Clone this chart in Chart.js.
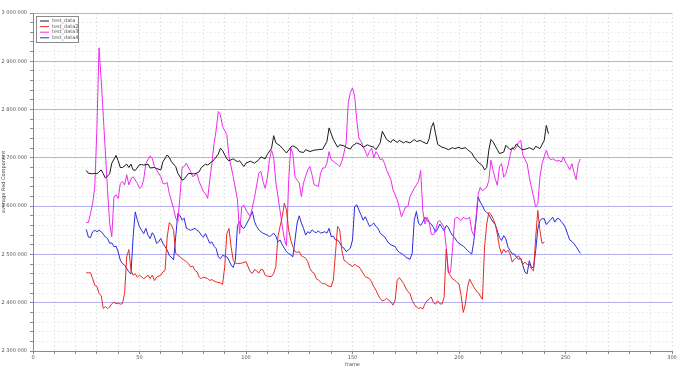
<!DOCTYPE html>
<html>
<head>
<meta charset="utf-8">
<script src="https://cdn.jsdelivr.net/npm/chart.js@4.4.0/dist/chart.umd.min.js"></script>
<style>
  html, body { margin: 0; padding: 0; background: #fff; }
  #wrap { position: relative; width: 680px; height: 369px; }
</style>
</head>
<body>
<div id="wrap"><canvas id="c" width="680" height="369"></canvas></div>
<script>
// values (frame -> average red component)
var seriesNames = ['test_data', 'test_data2', 'test_data3', 'test_data4'];
var seriesColors = ['#1a1a1a', '#e82a24', '#ee2aee', '#2a2ae0'];

var framesBlack = [25,26,28,29,30,32,33,34,36,37,39,40,41,42,44,45,46,47,48,50,51,52,54,55,57,58,60,61,63,64,65,67,68,70,71,73,75,76,78,79,81,82,84,85,87,88,89,91,92,94,96,97,99,100,102,104,106,107,109,110,112,113,114,116,117,119,121,122,124,125,127,128,130,132,134,136,138,139,141,143,144,146,147,149,150,152,154,155,157,158,160,161,163,164,166,168,169,171,172,174,175,177,179,180,182,183,185,186,187,188,189,190,192,193,195,197,198,200,201,203,204,206,207,209,211,212,213,214,215,216,218,219,221,222,224,226,227,229,230,232,233,235,236,238,240,241,242];
var valuesBlack = [2674000,2668000,2667000,2668000,2667000,2675000,2667000,2658000,2667000,2689000,2705000,2694000,2680000,2680000,2687000,2680000,2687000,2675000,2674000,2686000,2686000,2685000,2687000,2679000,2680000,2678000,2675000,2692000,2706000,2701000,2692000,2682000,2668000,2654000,2656000,2668000,2667000,2667000,2671000,2680000,2687000,2685000,2692000,2696000,2708000,2720000,2715000,2698000,2694000,2698000,2692000,2694000,2682000,2689000,2693000,2689000,2696000,2702000,2698000,2707000,2720000,2746000,2731000,2725000,2720000,2710000,2722000,2725000,2720000,2713000,2711000,2717000,2713000,2716000,2717000,2718000,2734000,2762000,2738000,2722000,2727000,2725000,2722000,2718000,2725000,2731000,2727000,2722000,2727000,2725000,2722000,2717000,2731000,2755000,2738000,2732000,2738000,2732000,2736000,2731000,2734000,2731000,2738000,2734000,2736000,2733000,2729000,2740000,2763000,2773000,2750000,2728000,2722000,2721000,2717000,2721000,2719000,2722000,2719000,2721000,2717000,2710000,2702000,2691000,2684000,2675000,2680000,2716000,2738000,2733000,2717000,2709000,2712000,2726000,2717000,2721000,2729000,2719000,2717000,2719000,2721000,2717000,2724000,2719000,2736000,2767000,2750000];

var framesRed = [25,26,27,28,29,30,31,32,33,34,35,36,37,38,39,40,41,42,43,44,45,46,47,48,49,50,52,53,54,55,56,57,58,60,61,62,63,64,65,66,67,69,70,71,72,73,74,75,76,77,78,79,80,82,83,84,85,86,88,89,90,91,92,93,94,95,96,98,100,102,103,104,105,106,107,108,109,110,112,113,114,115,116,117,118,119,120,121,122,123,124,125,126,127,128,129,130,131,132,133,134,135,136,137,138,139,140,141,142,143,144,145,146,147,148,150,151,152,153,154,155,156,158,159,160,161,162,163,164,165,166,167,168,169,170,171,172,174,175,176,177,178,179,180,181,182,183,184,185,186,187,188,189,190,191,192,193,194,195,196,197,198,199,200,201,202,203,204,205,206,207,208,209,210,211,212,213,214,215,216,217,218,219,220,221,222,223,224,225,226,227,228,229,230,231,232,233,234,235,236,237,238,239,240];
var valuesRed = [2462000,2462000,2462000,2450000,2436000,2434000,2419000,2415000,2388000,2392000,2388000,2391000,2398000,2401000,2398000,2399000,2397000,2398000,2419000,2495000,2510000,2467000,2457000,2460000,2453000,2457000,2450000,2453000,2457000,2450000,2457000,2446000,2453000,2457000,2464000,2467000,2536000,2566000,2561000,2550000,2502000,2495000,2491000,2488000,2485000,2481000,2474000,2476000,2467000,2464000,2453000,2450000,2453000,2450000,2446000,2448000,2445000,2443000,2441000,2438000,2474000,2543000,2554000,2516000,2488000,2482000,2481000,2482000,2485000,2464000,2461000,2469000,2466000,2461000,2469000,2468000,2457000,2455000,2454000,2461000,2475000,2537000,2558000,2578000,2606000,2592000,2551000,2530000,2516000,2506000,2504000,2506000,2497000,2495000,2492000,2485000,2471000,2464000,2461000,2450000,2447000,2443000,2439000,2440000,2436000,2434000,2433000,2447000,2502000,2558000,2551000,2509000,2488000,2485000,2481000,2475000,2480000,2476000,2475000,2468000,2461000,2454000,2450000,2443000,2433000,2426000,2416000,2409000,2404000,2405000,2409000,2405000,2402000,2395000,2405000,2447000,2452000,2440000,2430000,2423000,2419000,2405000,2397000,2391000,2388000,2390000,2387000,2397000,2404000,2407000,2412000,2400000,2397000,2404000,2398000,2397000,2411000,2511000,2463000,2456000,2449000,2447000,2442000,2439000,2415000,2380000,2397000,2432000,2449000,2440000,2432000,2425000,2421000,2414000,2407000,2515000,2563000,2587000,2583000,2574000,2563000,2542000,2515000,2501000,2511000,2504000,2509000,2501000,2484000,2490000,2494000,2497000,2490000,2480000,2484000,2479000,2480000,2470000,2466000,2535000,2591000,2549000,2523000,2525000];

var framesMagenta = [25,26,27,28,29,30,31,32,33,34,35,36,37,38,39,40,41,42,43,44,45,46,47,49,50,51,52,53,55,56,57,58,60,61,62,63,64,66,67,68,69,70,71,72,74,75,77,78,80,81,82,83,84,85,86,87,88,89,91,92,94,96,97,98,99,100,102,104,106,107,108,109,110,111,112,113,114,116,117,118,119,120,121,122,123,124,125,126,127,128,129,130,131,132,134,135,136,137,138,139,140,141,143,144,145,146,147,148,149,150,151,152,153,154,155,157,158,159,160,161,162,163,164,165,166,168,169,171,172,173,174,175,176,177,179,180,181,182,183,184,185,186,187,188,189,190,191,192,193,194,195,196,197,198,199,200,201,202,203,204,205,206,207,208,209,210,211,213,214,215,216,217,218,219,220,221,222,223,224,225,226,227,228,229,230,232,233,234,235,236,237,238,239,240,241,242,243,244,246,247,248,249,250,251,252,253,254,255,256,257];
var valuesMagenta = [2566000,2566000,2585000,2606000,2640000,2760000,2928000,2862000,2786000,2710000,2633000,2564000,2537000,2620000,2623000,2616000,2647000,2651000,2644000,2665000,2644000,2656000,2661000,2647000,2637000,2640000,2656000,2689000,2704000,2699000,2682000,2675000,2661000,2647000,2646000,2649000,2626000,2595000,2575000,2568000,2620000,2680000,2682000,2689000,2671000,2661000,2667000,2651000,2630000,2626000,2616000,2654000,2689000,2730000,2758000,2796000,2789000,2765000,2748000,2703000,2661000,2613000,2543000,2599000,2602000,2592000,2578000,2618000,2668000,2672000,2651000,2637000,2658000,2696000,2716000,2700000,2650000,2590000,2560000,2532000,2518000,2650000,2722000,2708000,2660000,2654000,2648000,2620000,2648000,2662000,2675000,2682000,2665000,2644000,2641000,2668000,2679000,2679000,2689000,2713000,2696000,2693000,2686000,2682000,2693000,2710000,2731000,2814000,2835000,2845000,2828000,2779000,2741000,2734000,2724000,2703000,2713000,2720000,2700000,2713000,2707000,2696000,2698000,2689000,2675000,2655000,2634000,2613000,2596000,2578000,2589000,2599000,2599000,2620000,2637000,2644000,2651000,2674000,2591000,2563000,2577000,2567000,2542000,2541000,2549000,2567000,2570000,2563000,2556000,2515000,2463000,2463000,2515000,2574000,2577000,2574000,2570000,2577000,2574000,2574000,2577000,2549000,2539000,2577000,2625000,2639000,2632000,2639000,2653000,2695000,2674000,2657000,2643000,2682000,2688000,2660000,2667000,2684000,2705000,2722000,2716000,2722000,2733000,2736000,2705000,2688000,2660000,2639000,2619000,2598000,2605000,2660000,2688000,2702000,2716000,2702000,2696000,2698000,2693000,2695000,2691000,2702000,2691000,2684000,2675000,2688000,2670000,2655000,2688000,2698000];

var framesBlue = [25,26,27,28,29,30,31,32,33,34,35,36,37,38,39,40,41,42,43,44,45,46,47,48,49,50,51,52,53,54,55,56,57,58,59,60,61,62,63,64,66,67,68,69,70,71,72,73,74,76,77,78,79,80,81,82,83,84,85,86,87,88,89,91,92,93,94,95,96,97,98,99,100,102,103,104,105,106,107,108,110,111,112,113,114,115,116,117,118,119,120,121,122,123,124,125,126,127,128,129,130,131,132,133,134,135,137,138,139,140,141,142,143,144,145,146,147,148,149,150,151,152,153,154,155,156,157,158,159,160,161,162,163,164,165,166,167,168,170,171,172,173,174,175,177,178,179,180,181,182,183,184,185,186,187,188,189,190,191,192,193,194,195,196,197,198,199,200,201,202,203,204,205,206,207,208,209,210,211,212,213,214,215,216,217,218,219,220,221,222,223,224,225,226,227,228,229,230,231,232,233,234,235,236,237,238,239,240,241,242,243,244,245,246,247,248,249,250,251,252,253,254,255,256,257];
var valuesBlue = [2552000,2536000,2535000,2547000,2550000,2547000,2550000,2547000,2542000,2536000,2533000,2523000,2524000,2516000,2517000,2505000,2488000,2481000,2478000,2471000,2464000,2460000,2536000,2588000,2571000,2557000,2550000,2543000,2554000,2540000,2533000,2545000,2538000,2523000,2526000,2533000,2523000,2516000,2509000,2498000,2489000,2536000,2585000,2581000,2571000,2575000,2554000,2552000,2550000,2554000,2550000,2547000,2540000,2536000,2543000,2533000,2523000,2526000,2517000,2512000,2495000,2491000,2498000,2495000,2488000,2478000,2473000,2488000,2560000,2568000,2557000,2554000,2561000,2578000,2589000,2568000,2558000,2551000,2547000,2544000,2540000,2537000,2540000,2544000,2538000,2526000,2530000,2520000,2513000,2506000,2502000,2499000,2495000,2530000,2565000,2580000,2565000,2554000,2540000,2547000,2544000,2551000,2547000,2545000,2549000,2544000,2547000,2544000,2554000,2537000,2538000,2530000,2530000,2524000,2516000,2513000,2506000,2509000,2513000,2530000,2599000,2603000,2592000,2582000,2571000,2578000,2568000,2558000,2561000,2565000,2558000,2554000,2544000,2540000,2537000,2530000,2523000,2520000,2516000,2509000,2504000,2502000,2499000,2494000,2490000,2502000,2571000,2589000,2565000,2560000,2567000,2577000,2570000,2567000,2563000,2556000,2546000,2553000,2563000,2556000,2549000,2560000,2556000,2546000,2539000,2535000,2527000,2523000,2520000,2517000,2513000,2508000,2504000,2501000,2529000,2570000,2619000,2608000,2601000,2591000,2587000,2583000,2574000,2567000,2562000,2549000,2535000,2529000,2539000,2532000,2515000,2508000,2501000,2501000,2494000,2490000,2492000,2477000,2463000,2460000,2487000,2473000,2473000,2508000,2553000,2570000,2574000,2574000,2562000,2567000,2572000,2577000,2567000,2574000,2574000,2568000,2563000,2555000,2542000,2530000,2527000,2522000,2516000,2509000,2502000];

var xTickStep = 10, xLabelStep = 50;
var yMin = 2300000, yMax = 3000000, yTickStep = 20000, yLabelStep = 100000;

function toPoints(frames, values) {
    return frames.map(function (f, i) { return { x: f, y: values[i] }; });
}
function spaced(v) {
    return String(Math.round(v)).replace(/\B(?=(\d{3})+(?!\d))/g, ' ');
}

var allFrames = [framesBlack, framesRed, framesMagenta, framesBlue];
var allValues = [valuesBlack, valuesRed, valuesMagenta, valuesBlue];

var FONT = "'DejaVu Sans', sans-serif";

// legend box in the upper left corner of the plot
var cornerLegend = {
    id: 'cornerLegend',
    afterDraw: function (chart) {
        var ctx = chart.ctx, a = chart.chartArea;
        var x = a.left + 3, y = a.top + 3, w = 42, h = 26;
        ctx.save();
        ctx.fillStyle = '#ffffff';
        ctx.fillRect(x, y, w, h);
        ctx.strokeStyle = '#8a8a8a';
        ctx.lineWidth = 1;
        ctx.strokeRect(x + 0.5, y + 0.5, w, h);
        ctx.font = '5px ' + FONT;
        ctx.textBaseline = 'middle';
        chart.data.datasets.forEach(function (ds, i) {
            var ly = y + 5 + i * 5.6;
            ctx.strokeStyle = ds.borderColor;
            ctx.beginPath();
            ctx.moveTo(x + 4, ly);
            ctx.lineTo(x + 13, ly);
            ctx.stroke();
            ctx.fillStyle = '#555';
            ctx.fillText(ds.label, x + 16, ly);
        });
        ctx.restore();
    }
};

new Chart(document.getElementById('c'), {
    type: 'line',
    data: {
        datasets: seriesNames.map(function (name, i) {
            return {
                label: name,
                data: toPoints(allFrames[i], allValues[i]),
                borderColor: seriesColors[i],
                backgroundColor: seriesColors[i],
                borderWidth: 1,
                pointRadius: 0,
                tension: 0,
                fill: false
            };
        })
    },
    options: {
        responsive: false,
        animation: false,
        devicePixelRatio: 1,
        layout: { padding: { top: 13, right: 8, left: 0, bottom: 0 } },
        plugins: { legend: { display: false }, tooltip: { enabled: false } },
        scales: {
            x: {
                type: 'linear', min: 0, max: 300,
                afterFit: function (s) { s.height = 18; },
                ticks: {
                    stepSize: xTickStep, autoSkip: false, maxRotation: 0, padding: 1,
                    color: '#555', font: { size: 5, family: FONT },
                    callback: function (v) { return v % xLabelStep === 0 ? String(v) : ''; }
                },
                grid: { color: '#e6e6e6', tickColor: '#8a8a8a', tickLength: 3 },
                border: { color: '#8a8a8a', dash: [2, 2] },
                title: { display: true, text: 'frame', color: '#444', padding: { top: 0, bottom: 1 },
                         font: { size: 5, family: FONT } }
            },
            y: {
                type: 'linear', min: yMin, max: yMax,
                afterFit: function (s) { s.width = 33; },
                ticks: {
                    stepSize: yTickStep, autoSkip: false, padding: 3,
                    color: '#555', font: { size: 5, family: FONT },
                    callback: function (v) { return v % yLabelStep === 0 ? spaced(v) : ''; }
                },
                grid: {
                    tickColor: '#8a8a8a', tickLength: 3,
                    color: function (c) {
                        return c.tick && c.tick.value % yLabelStep === 0 ? '#b0b0f0' : '#eeeeee';
                    }
                },
                border: {
                    color: '#8a8a8a',
                    dash: function (c) {
                        return c.tick && c.tick.value % yLabelStep === 0 ? [] : [2, 2];
                    }
                },
                title: { display: true, text: 'average Red Component', color: '#444',
                         padding: { top: 1, bottom: 0 }, font: { size: 5, family: FONT } }
            }
        }
    },
    plugins: [cornerLegend]
});
</script>
</body>
</html>
